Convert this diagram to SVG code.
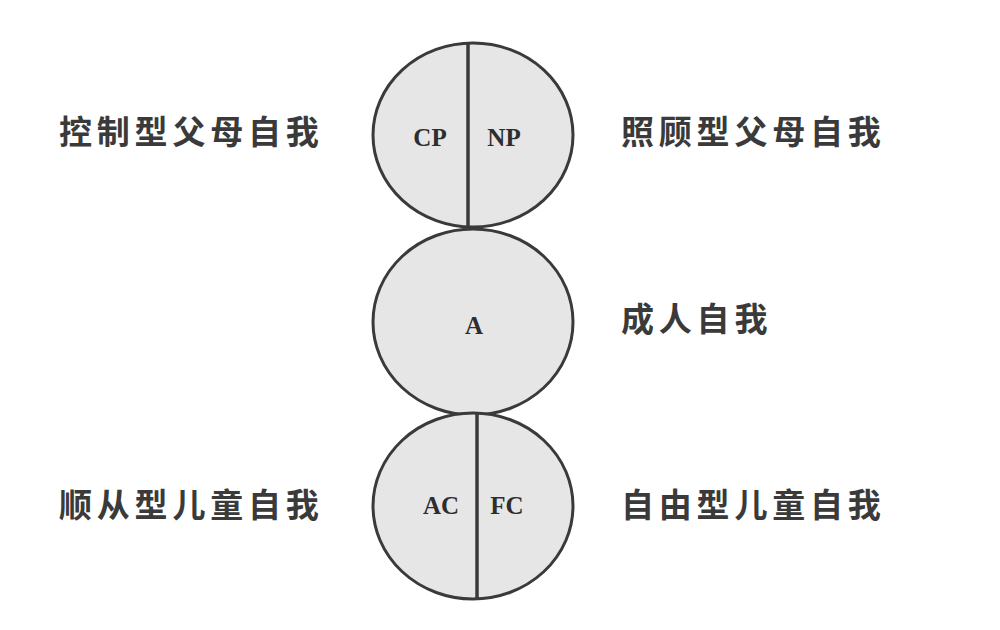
<svg xmlns="http://www.w3.org/2000/svg" width="1000" height="630" viewBox="0 0 1000 630">
<style>
.c{fill:#e6e6e6;stroke:#3a3a3a;stroke-width:3}
.d{stroke:#3a3a3a;stroke-width:3.5}
.s{font-family:"Liberation Serif",serif;font-weight:bold;font-size:25px;fill:#2e2e2e;text-anchor:middle}
.z{font-family:"Noto Sans CJK SC",sans-serif;font-weight:bold;font-size:33px;fill:#3a3a3a;letter-spacing:4.8px}
</style>
<rect width="1000" height="630" fill="#ffffff"/>
<g id="parent">
<ellipse class="c" cx="473" cy="135" rx="100" ry="92"/>
<line class="d" x1="468" y1="43" x2="468" y2="227"/>
<text class="s" x="430" y="146">CP</text>
<text class="s" x="504" y="146">NP</text>
</g>
<g id="adult">
<ellipse class="c" cx="473" cy="322" rx="100" ry="93"/>
<text class="s" x="474" y="334">A</text>
</g>
<g id="child">
<ellipse class="c" cx="473" cy="506" rx="100" ry="93"/>
<line class="d" x1="477" y1="413" x2="477" y2="599"/>
<text class="s" x="441" y="514">AC</text>
<text class="s" x="507" y="514">FC</text>
</g>
<g id="labels">
<text class="z" x="59" y="144">控制型父母自我</text>
<text class="z" x="621" y="144">照顾型父母自我</text>
<text class="z" x="621" y="331">成人自我</text>
<text class="z" x="59" y="517">顺从型儿童自我</text>
<text class="z" x="621" y="517">自由型儿童自我</text>
</g>
</svg>
